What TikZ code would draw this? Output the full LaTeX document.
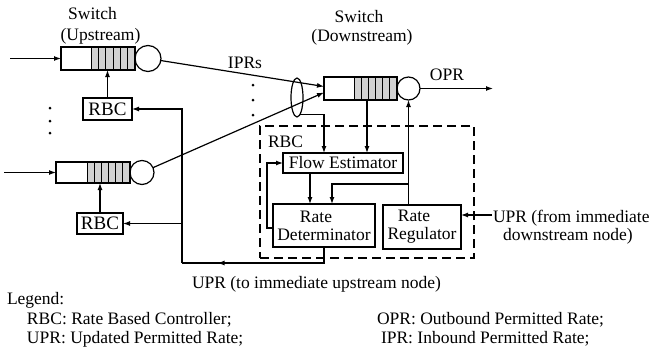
\documentclass[tikz,border=0pt]{standalone}
\usepackage{fontspec}
\setmainfont{Liberation Serif}
\usetikzlibrary{shapes.geometric,arrows.meta,calc}
\begin{document}
\begin{tikzpicture}[x=1pt,y=-1pt,
  font=\fontsize{17.5}{18}\selectfont,
  every node/.style={inner sep=0pt, outer sep=0pt},
  line width=1.2pt,
  box/.style={draw, rectangle, line width=1.2pt},
  queue/.style={draw, rectangle},
  server/.style={draw, circle},
  arr/.style={-{Latex[length=7pt,width=5pt]}},
  lbl/.style={anchor=base west},
  clbl/.style={anchor=base},
  rbcfont/.style={font=\fontsize{19}{20}\selectfont},
]
\useasboundingbox (0,0) rectangle (653,354);

% queues and servers
\node[queue, minimum width=74, minimum height=23] (q1) at (98,58.5) {};
\node[server, minimum size=26] (c1) at (148,58.5) {};
\node[queue, minimum width=74, minimum height=21] (q2) at (93,172.5) {};
\node[server, minimum size=24] (c2) at (142,172.5) {};
\node[queue, minimum width=73, minimum height=23] (qD) at (360.5,88.5) {};
\node[server, minimum size=23] (cD) at (408.5,88.5) {};

\foreach \q/\w in {q1/44,q2/43,qD/43} {
  \fill[black!18] ($(\q.north east)+(-\w,0)$) rectangle (\q.south east);
  \foreach \i in {0,...,5}
    \draw[line width=0.8pt] ($(\q.north east)+({-\w+\i*\w/6},0)$) -- ($(\q.south east)+({-\w+\i*\w/6},0)$);
  \draw (\q.north west) rectangle (\q.south east);
}

% controllers
\node[box, rbcfont, minimum width=49, minimum height=22] (rbc1) at (107.5,109) {RBC};
\node[box, rbcfont, minimum width=46, minimum height=21] (rbc2) at (100,223.5) {RBC};
\node[draw, dash pattern=on 9pt off 5pt, minimum width=214, minimum height=132] (rbcbox) at (367,192) {};
\node[lbl] (rbclbl) at (268,147) {RBC};
\node[box, minimum width=120, minimum height=20] (FE) at (343,163) {Flow Estimator};
\node[box, minimum width=102, minimum height=43, align=center] (RD) at (324,225.5) {Rate\hspace*{16pt}\\Determinator};
\node[box, minimum width=78, minimum height=44, align=center] (RR) at (422,227) {Rate\hspace*{16pt}\\Regulator};
\node[draw, ellipse, minimum width=12, minimum height=39] (ell) at (297,97.5) {};

% dots
\foreach \y in {108,121,133} \fill (50,\y) circle (1.5);
\foreach \y in {85,100,115} \fill (253,\y) circle (1.5);

% labels
\node[clbl] (sw1a) at (92.5,19) {Switch};
\node[clbl] (sw1b) at (100.5,40) {(Upstream)};
\node[clbl] (sw2a) at (359,22) {Switch};
\node[clbl] (sw2b) at (362,41) {(Downstream)};
\node[clbl] (iprs) at (245,68) {IPRs};
\node[clbl] (oprl) at (447,80) {OPR};
\node[lbl] (uprfrom1) at (493,222) {UPR (from immediate};
\node[lbl] (uprfrom2) at (503,240) {downstream node)};
\node[lbl] (uprto) at (192,288) {UPR (to immediate upstream node)};
\node[lbl] (leg) at (7,304) {Legend:};
\node[lbl] (l1) at (27,324) {RBC: Rate Based Controller;};
\node[lbl] (l2) at (27,343) {UPR: Updated Permitted Rate;};
\node[lbl] (l3) at (377,324) {OPR: Outbound Permitted Rate;};
\node[lbl] (l4) at (381,343) {IPR: Inbound Permitted Rate;};

% connectors
\coordinate (in1) at (10,58.5);
\coordinate (in2) at (4,172.5);
\draw[arr] (in1) -- (q1.west);
\draw[arr] (in2) -- (q2.west);
\coordinate (qDin1) at ($(qD.west)+(0,-2)$);
\coordinate (qDin2) at ($(qD.west)+(0,4)$);
\draw[arr] (c1) -- (qDin1);
\draw[arr] (c2) -- (qDin2);
\draw[arr] (rbc1) -- (rbc1 |- q1.south);
\draw[arr] (rbc2) -- (rbc2 |- q2.south);
\coordinate (oprend) at (493,88.5);
\draw[arr] (cD) -- (oprend);

\coordinate (fe1) at ($(FE.north west)+(41,0)$);
\coordinate (fe2) at ($(FE.north west)+(84,0)$);
\draw[arr] (ell.-80) -| (fe1);
\draw[arr] (fe2 |- qD.south) -- (fe2);
\coordinate (rd1) at ($(RD.north west)+(37,0)$);
\coordinate (rd2) at ($(RD.north west)+(59,0)$);
\draw[arr] (rd1 |- FE.south) -- (rd1);
\draw[arr] (cD |- RR.north) -- (cD.south);
\coordinate (br) at ($(cD |- RR.north)+(0,-21)$);
\draw[arr] (br) -| (rd2);
\draw[arr] ($(RD.west)+(0,2.5)$) -- ++(-6,0) |- (FE.west);
\coordinate (uprin) at (492,215);
\draw[arr] (uprin) -- (RR.east |- uprin);

\coordinate (fbc) at (182,263);
\draw (RD.south) |- (fbc);
\draw[arr] (fbc) |- (rbc1.east);
\draw[arr] (fbc |- rbc2.east) -- (rbc2.east);
\draw[arr] (RD.south |- fbc) -- ($(RD.south |- fbc)!0.75!(fbc)$);
\end{tikzpicture}
\end{document}
